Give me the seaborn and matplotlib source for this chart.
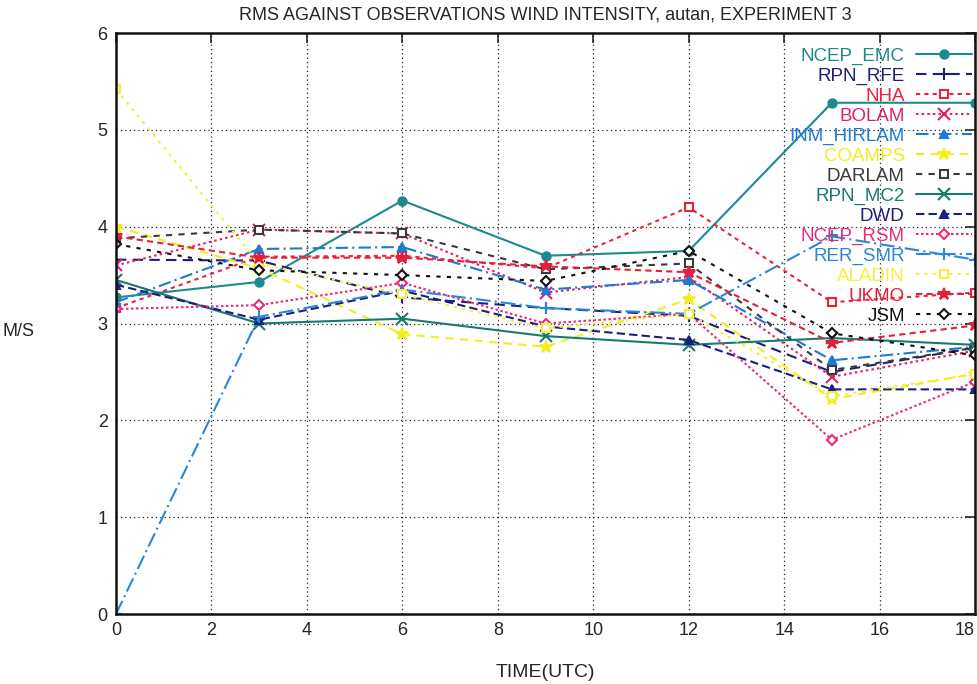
import matplotlib
matplotlib.use("Agg")
import matplotlib.pyplot as plt
import seaborn as sns
import pandas as pd

# Forecast lead times (UTC hours)
hours = [0, 3, 6, 9, 12, 15, 18]

# RMS of wind intensity against observations (m/s), one list per model
ncep_emc   = [3.27, 3.43, 4.27, 3.70, 3.75, 5.28, 5.28]
rpn_rfe    = [3.66, 3.65, 3.27, 3.16, 3.08, 2.50, 2.75]
nha        = [3.16, 3.69, 3.70, 3.57, 4.20, 3.22, 3.32]
bolam      = [3.60, 3.97, 3.93, 3.32, 3.48, 2.45, 2.72]
inm_hirlam = [3.22, 3.77, 3.79, 3.35, 3.45, 2.62, 2.76]
coamps     = [4.00, 3.57, 2.89, 2.76, 3.25, 2.22, 2.48]
darlam     = [3.88, 3.97, 3.93, 3.56, 3.62, 2.52, 2.75]
rpn_mc2    = [3.45, 3.00, 3.05, 2.87, 2.78, 2.85, 2.78]
dwd        = [3.40, 3.04, 3.34, 2.97, 2.83, 2.32, 2.32]
ncep_rsm   = [3.15, 3.19, 3.42, 3.00, 3.10, 1.80, 2.40]
rer_smr    = [0.00, 3.07, 3.35, 3.16, 3.10, 3.90, 3.66]
aladin     = [5.42, 3.62, 3.30, 2.95, 3.10, 2.25, 2.48]
ukmo       = [3.90, 3.68, 3.68, 3.59, 3.53, 2.80, 2.98]
jsm        = [3.82, 3.55, 3.50, 3.44, 3.75, 2.90, 2.67]

models = ["NCEP_EMC", "RPN_RFE", "NHA", "BOLAM", "INM_HIRLAM", "COAMPS", "DARLAM",
          "RPN_MC2", "DWD", "NCEP_RSM", "RER_SMR", "ALADIN", "UKMO", "JSM"]
values = [ncep_emc, rpn_rfe, nha, bolam, inm_hirlam, coamps, darlam,
          rpn_mc2, dwd, ncep_rsm, rer_smr, aladin, ukmo, jsm]

y_ticks = [0, 1, 2, 3, 4, 5, 6]
x_ticks = [0, 2, 4, 6, 8, 10, 12, 14, 16, 18]

# Drawing style per model: colour, marker, filled marker, line style
styles = {
    "NCEP_EMC":   ("#1d8a8c", "o", True,  "-"),
    "RPN_RFE":    ("#1c1f78", "+", True,  (0, (5, 3))),
    "NHA":        ("#e8243c", "s", False, (0, (2, 2))),
    "BOLAM":      ("#e0206a", "x", True,  (0, (1.2, 1.5))),
    "INM_HIRLAM": ("#1f78d2", "^", True,  (0, (6, 2, 1, 2))),
    "COAMPS":     ("#f2ee1c", "*", True,  (0, (4, 3))),
    "DARLAM":     ("#3a3a3a", "s", False, (0, (3, 3))),
    "RPN_MC2":    ("#177a6e", "x", True,  "-"),
    "DWD":        ("#1a1f80", "^", True,  (0, (4, 2))),
    "NCEP_RSM":   ("#ea2a7c", "D", False, (0, (1.2, 1.2))),
    "RER_SMR":    ("#2a86d8", "+", True,  (0, (7, 2, 1, 2))),
    "ALADIN":     ("#f4f03a", "s", False, (0, (1.5, 2.5))),
    "UKMO":       ("#e3203c", "*", True,  (0, (3, 2))),
    "JSM":        ("#111111", "D", False, (0, (2, 3))),
}

df = pd.DataFrame({m: v for m, v in zip(models, values)})
df["hour"] = hours
long_df = df.melt(id_vars="hour", var_name="model", value_name="rms")

sns.set_style("white")
plt.rcParams["font.family"] = ["Liberation Sans", "DejaVu Sans"]

fig = plt.figure(figsize=(9.78, 6.84), dpi=100)
ax = fig.add_axes([0.1186, 0.1023, 0.8784, 0.8494])

for m in models:
    color, marker, filled, ls = styles[m]
    sub = long_df[long_df["model"] == m]
    size = 9 if marker in ("+", "x", "*") else 6
    if marker == "D":
        size = 5
    sns.lineplot(data=sub, x="hour", y="rms", ax=ax, color=color, linestyle=ls,
                 linewidth=1.5, marker=marker, markersize=size,
                 markerfacecolor=color if filled else "white",
                 markeredgecolor=color, markeredgewidth=1.5,
                 label=m, sort=False)

ax.set_xlim(0, 18)
ax.set_ylim(0, 6)
ax.set_xticks(x_ticks)
ax.set_yticks(y_ticks)
ax.grid(True, color="#222222", linestyle=(0, (1, 2.5)), linewidth=0.9)
ax.tick_params(direction="in", length=7, width=1.2, top=True, right=True,
               labelsize=13, pad=6)
for s in ax.spines.values():
    s.set_linewidth(1.8)
    s.set_color("#111111")
# keep the last x tick label inside the figure
ax.get_xticklabels()[-1].set_horizontalalignment("right")

ax.set_xlabel("TIME(UTC)", fontsize=14, labelpad=18)
ax.set_ylabel("")
fig.text(18 / 978, 1 - 332 / 684, "M/S", fontsize=13, ha="center", va="center")
ax.set_title("RMS AGAINST OBSERVATIONS WIND INTENSITY, autan, EXPERIMENT 3",
             fontsize=13, pad=10)

leg = ax.legend(loc="upper right", bbox_to_anchor=(1.012, 0.998), frameon=False,
                markerfirst=False, fontsize=13.5, labelspacing=0.15,
                handlelength=3.0, handletextpad=0.6, borderaxespad=0.3,
                labelcolor="linecolor")
for t in leg.get_texts():
    t.set_horizontalalignment("right")
leg._legend_box.align = "right"

fig.savefig("out.png", dpi=100)
